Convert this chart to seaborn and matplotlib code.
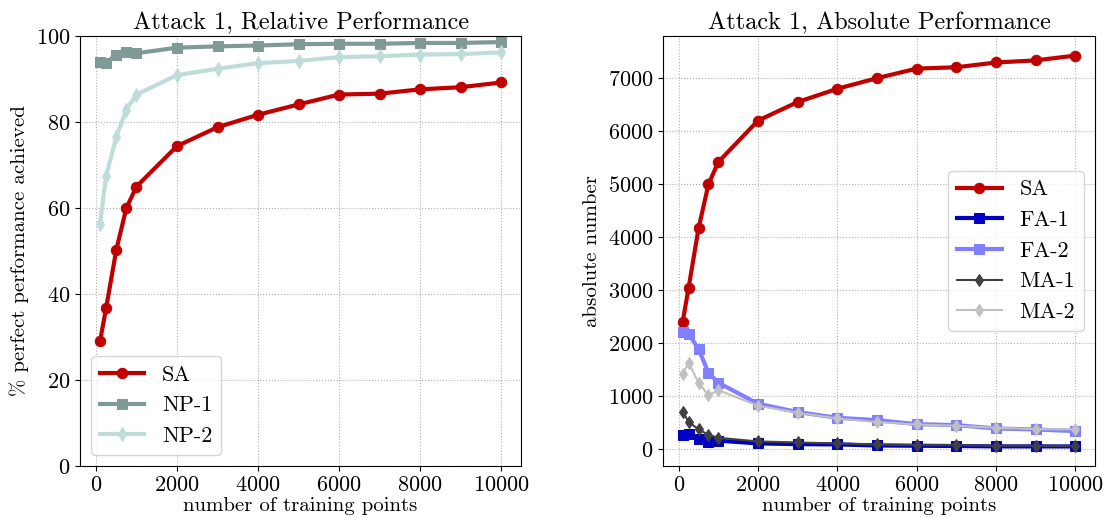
import seaborn as sns
import matplotlib.pyplot as plt
import pandas as pd

plt.rcParams['font.family'] = 'cmr10'
plt.rcParams['axes.formatter.use_mathtext'] = True
plt.rcParams['mathtext.fontset'] = 'cm'

# training set sizes
points = [100, 250, 500, 750, 1000, 2000, 3000, 4000, 5000, 6000, 7000, 8000, 9000, 10000]

# relative performance (%)
sa_rel = [29.0, 36.7, 50.2, 60.0, 65.0, 74.4, 78.8, 81.7, 84.1, 86.4, 86.6, 87.6, 88.1, 89.2]
np1_rel = [94.0, 93.7, 95.7, 96.4, 96.0, 97.3, 97.6, 97.8, 98.1, 98.2, 98.2, 98.4, 98.4, 98.6]
np2_rel = [56.4, 67.4, 76.5, 82.9, 86.4, 90.9, 92.4, 93.7, 94.2, 95.1, 95.3, 95.7, 95.8, 96.2]

# absolute numbers
sa_abs = [2410, 3050, 4170, 5000, 5420, 6200, 6550, 6800, 7000, 7180, 7205, 7295, 7335, 7425]
fa1_abs = [275, 290, 200, 145, 165, 115, 100, 95, 75, 70, 65, 58, 58, 57]
fa2_abs = [2215, 2175, 1895, 1445, 1258, 862, 705, 597, 553, 478, 459, 396, 377, 346]
ma1_abs = [711, 522, 377, 277, 220, 151, 132, 113, 94, 82, 82, 69, 69, 63]
ma2_abs = [1420, 1635, 1258, 1019, 1119, 824, 692, 585, 516, 472, 447, 409, 384, 377]

fig = plt.figure(figsize=(11.06, 5.18), dpi=100)
ax1 = fig.add_axes([0.0723, 0.1004, 0.399, 0.830])
ax2 = fig.add_axes([0.5995, 0.1004, 0.3906, 0.830])

rel_series = [
    ("SA", sa_rel, "#c00000", "o", 3, 7.5),
    ("NP-1", np1_rel, "#809a98", "s", 3, 7.5),
    ("NP-2", np2_rel, "#bfdcda", "d", 3, 7),
]
for name, vals, col, mk, lw, ms in rel_series:
    sns.lineplot(x=points, y=vals, ax=ax1, color=col, marker=mk, lw=lw,
                 markersize=ms, markeredgecolor=col, label=name)

abs_series = [
    ("SA", sa_abs, "#c00000", "o", 3, 7.5),
    ("FA-1", fa1_abs, "#0000c0", "s", 3, 7.5),
    ("FA-2", fa2_abs, "#8080ff", "s", 3, 7.5),
    ("MA-1", ma1_abs, "#404040", "d", 1.5, 6),
    ("MA-2", ma2_abs, "#c0c0c0", "d", 1.5, 6),
]
for name, vals, col, mk, lw, ms in abs_series:
    sns.lineplot(x=points, y=vals, ax=ax2, color=col, marker=mk, lw=lw,
                 markersize=ms, markeredgecolor=col, label=name)

ax1.set_ylim(0, 100)
ax1.set_title("Attack 1, Relative Performance", fontsize=17.5, pad=5)
ax1.set_xlabel("number of training points", fontsize=15, labelpad=1)
ax1.set_ylabel("% perfect performance achieved", fontsize=15, labelpad=5)
ax1.legend(loc="lower left", fontsize=16)

ax2.set_title("Attack 1, Absolute Performance", fontsize=17.5, pad=5)
ax2.set_xlabel("number of training points", fontsize=15, labelpad=1)
ax2.set_ylabel("absolute number", fontsize=15, labelpad=5)
ax2.legend(loc="center right", fontsize=16)

for ax in (ax1, ax2):
    ax.set_xticks([0, 2000, 4000, 6000, 8000, 10000])
    ax.tick_params(labelsize=16)
    ax.grid(True, ls=':', color='#b0b0b0', lw=0.8)

fig.savefig("out.png", dpi=100)
